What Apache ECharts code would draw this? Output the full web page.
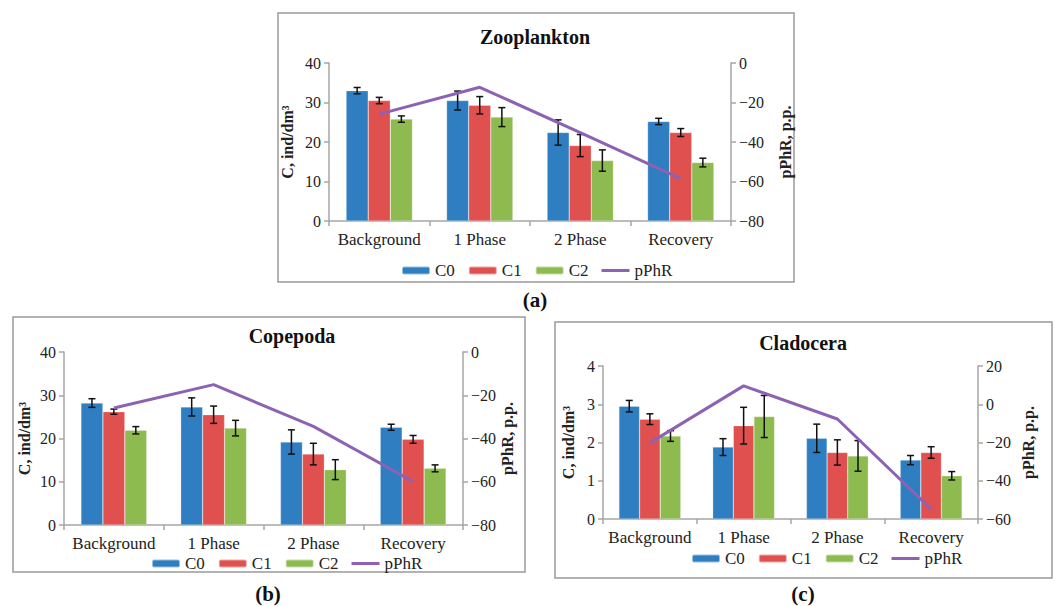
<!DOCTYPE html>
<html>
<head>
<meta charset="utf-8">
<script src="https://cdn.jsdelivr.net/npm/echarts@6/dist/echarts.min.js"></script>
<style>html,body{margin:0;padding:0;background:#fff;}#chart{width:1060px;height:606px;}</style>
</head>
<body>
<div id="chart"></div>
<script>
const categories = ['Background', '1 Phase', '2 Phase', 'Recovery'];
const seriesNames = ['C0', 'C1', 'C2'];

// Zooplankton (a)
const zooC0 = [33.0, 30.5, 22.4, 25.2];
const zooC1 = [30.5, 29.3, 19.1, 22.4];
const zooC2 = [25.8, 26.3, 15.3, 14.8];
const zooC0Err = [0.8, 2.4, 3.2, 0.8];
const zooC1Err = [0.8, 2.2, 2.8, 1.0];
const zooC2Err = [0.8, 2.4, 2.7, 1.1];
const zooPPhR = [-25.9, -12.3, -35.2, -58.5];

// Copepoda (b)
const copC0 = [28.2, 27.3, 19.2, 22.6];
const copC1 = [26.2, 25.5, 16.4, 19.8];
const copC2 = [21.9, 22.4, 12.8, 13.1];
const copC0Err = [1.0, 2.1, 2.8, 0.7];
const copC1Err = [0.6, 2.0, 2.5, 0.9];
const copC2Err = [0.85, 1.8, 2.3, 0.8];
const copPPhR = [-25.9, -15.1, -34.4, -59.9];

// Cladocera (c)
const claC0 = [2.95, 1.88, 2.11, 1.54];
const claC1 = [2.61, 2.44, 1.74, 1.74];
const claC2 = [2.17, 2.68, 1.65, 1.13];
const claC0Err = [0.15, 0.22, 0.37, 0.12];
const claC1Err = [0.14, 0.48, 0.33, 0.15];
const claC2Err = [0.14, 0.55, 0.40, 0.11];
const claPPhR = [-20.2, 9.6, -7.7, -54.8];

const colors = ['#2E7EC1', '#E0504E', '#8DBB4F'];
const lineColor = '#8E62B3';
const FONT = '"Liberation Serif", "Times New Roman", "DejaVu Serif", serif';
const textCol = '#222';
const axisCol = '#A6A6A6';
const CAT_GAP = 0.34;

const panels = [
  {
    grid: {left: 329, right: 329, top: 63, bottom: 385},
    left: {min: 0, max: 40, interval: 10, gap: 34},
    right: {min: -80, max: 0, interval: 20, gap: 46},
    bars: [zooC0, zooC1, zooC2], errs: [zooC0Err, zooC1Err, zooC2Err], line: zooPPhR,
    legendLeft: 396, legendTop: 257
  },
  {
    grid: {left: 64, right: 597, top: 352, bottom: 81},
    left: {min: 0, max: 40, interval: 10, gap: 32},
    right: {min: -80, max: 0, interval: 20, gap: 35},
    bars: [copC0, copC1, copC2], errs: [copC0Err, copC1Err, copC2Err], line: copPPhR,
    legendLeft: 146, legendTop: 550
  },
  {
    grid: {left: 603, right: 82, top: 366, bottom: 87},
    left: {min: 0, max: 4, interval: 1, gap: 27},
    right: {min: -60, max: 20, interval: 20, gap: 42},
    bars: [claC0, claC1, claC2], errs: [claC0Err, claC1Err, claC2Err], line: claPPhR,
    legendLeft: 686, legendTop: 545
  }
];

function errorRender(params, api) {
  const cat = api.value(0), s = api.value(1), v = api.value(2), e = api.value(3);
  const c = api.coord([cat, v]);
  const band = api.size([1, 0])[0];
  const bw = band * (1 - CAT_GAP) / 3;
  const x = c[0] + (s - 1) * bw;
  const hi = api.coord([cat, v + e])[1];
  const lo = api.coord([cat, v - e])[1];
  const cap = 3.5;
  const st = {stroke: '#111', lineWidth: 1.5};
  return {
    type: 'group',
    children: [
      {type: 'line', shape: {x1: x, y1: hi, x2: x, y2: lo}, style: st},
      {type: 'line', shape: {x1: x - cap, y1: hi, x2: x + cap, y2: hi}, style: st},
      {type: 'line', shape: {x1: x - cap, y1: lo, x2: x + cap, y2: lo}, style: st}
    ]
  };
}

const option = {
  animation: false,
  backgroundColor: '#fff',
  textStyle: {fontFamily: FONT, color: textCol},
  grid: [], xAxis: [], yAxis: [], series: [], legend: [],
  graphic: []
};

panels.forEach((p, k) => {
  option.grid.push(p.grid);
  option.xAxis.push({
    type: 'category', gridIndex: k, data: categories,
    axisLine: {lineStyle: {color: axisCol, width: 1.5}},
    axisTick: {show: true, length: 5, lineStyle: {color: axisCol, width: 1.5}},
    axisLabel: {interval: 0, fontFamily: FONT, fontSize: 17, color: textCol, margin: 10}
  });
  option.yAxis.push({
    type: 'value', gridIndex: k, position: 'left',
    min: p.left.min, max: p.left.max, interval: p.left.interval,
    name: 'C, ind/dm³', nameLocation: 'middle', nameGap: p.left.gap, nameRotate: 90,
    nameTextStyle: {fontFamily: FONT, fontSize: 16, fontWeight: 'bold', color: textCol},
    axisLine: {show: true, lineStyle: {color: axisCol, width: 1.5}},
    axisTick: {show: true, length: 5, lineStyle: {color: axisCol, width: 1.5}},
    splitLine: {show: false},
    axisLabel: {fontFamily: FONT, fontSize: 16, color: textCol, margin: 8}
  });
  option.yAxis.push({
    type: 'value', gridIndex: k, position: 'right',
    min: p.right.min, max: p.right.max, interval: p.right.interval,
    name: 'pPhR, p.p.', nameLocation: 'middle', nameGap: p.right.gap, nameRotate: 90,
    nameTextStyle: {fontFamily: FONT, fontSize: 16, fontWeight: 'bold', color: textCol},
    axisLine: {show: true, lineStyle: {color: axisCol, width: 1.5}},
    axisTick: {show: true, length: 5, lineStyle: {color: axisCol, width: 1.5}},
    splitLine: {show: false},
    axisLabel: {fontFamily: FONT, fontSize: 16, color: textCol, margin: 8,
      formatter: v => String(v).replace('-', '\u2212')}
  });
  p.bars.forEach((vals, s) => {
    option.series.push({
      type: 'bar', name: seriesNames[s], xAxisIndex: k, yAxisIndex: 2 * k,
      data: vals, barGap: '0%', barCategoryGap: (CAT_GAP * 100) + '%',
      itemStyle: {color: colors[s], borderColor: 'rgba(255,255,255,0.5)', borderWidth: 0.5},
      z: 2
    });
  });
  const errData = [];
  p.bars.forEach((vals, s) => vals.forEach((v, i) => errData.push([i, s, v, p.errs[s][i]])));
  option.series.push({
    type: 'custom', name: 'err' + k, xAxisIndex: k, yAxisIndex: 2 * k,
    renderItem: errorRender, data: errData, encode: {x: 0, y: 2}, z: 4, silent: true
  });
  option.series.push({
    type: 'line', name: 'pPhR', xAxisIndex: k, yAxisIndex: 2 * k + 1,
    data: p.line, symbol: 'none', showSymbol: false,
    lineStyle: {color: lineColor, width: 3}, itemStyle: {color: lineColor}, z: 5
  });
  option.legend.push({
    left: p.legendLeft, top: p.legendTop, orient: 'horizontal',
    data: ['C0', 'C1', 'C2', {name: 'pPhR', icon: 'path://M0,0 L28,0 L28,3 L0,3 Z'}],
    itemWidth: 28, itemHeight: 8, itemGap: 13, padding: 5, symbolKeepAspect: true,
    textStyle: {fontFamily: FONT, fontSize: 17, color: textCol}
  });
});

// Panel frames, titles and labels
const frames = [
  {x: 278, y: 13, w: 516, h: 269},
  {x: 13, y: 317, w: 512, h: 255},
  {x: 555, y: 322, w: 497, h: 256}
];
frames.forEach(f => option.graphic.push({
  type: 'rect', shape: {x: f.x, y: f.y, width: f.w, height: f.h},
  style: {fill: 'none', stroke: '#9A9A9A', lineWidth: 1.5}, z: -1
}));
const titles = [
  {t: 'Zooplankton', x: 535, y: 37},
  {t: 'Copepoda', x: 292, y: 336},
  {t: 'Cladocera', x: 803, y: 343}
];
titles.forEach(t => option.graphic.push({
  type: 'text', x: t.x, y: t.y,
  style: {text: t.t, fontFamily: FONT, fontSize: 20, fontWeight: 'bold', fill: '#111',
    align: 'center', verticalAlign: 'middle'}
}));
const labels = [
  {t: '(a)', x: 535, y: 300},
  {t: '(b)', x: 268, y: 594},
  {t: '(c)', x: 803, y: 594}
];
labels.forEach(t => option.graphic.push({
  type: 'text', x: t.x, y: t.y,
  style: {text: t.t, fontFamily: FONT, fontSize: 21, fontWeight: 'bold', fill: '#111',
    align: 'center', verticalAlign: 'middle'}
}));

const chart = echarts.init(document.getElementById('chart'), null, {renderer: 'svg'});
chart.setOption(option);
</script>
</body>
</html>
